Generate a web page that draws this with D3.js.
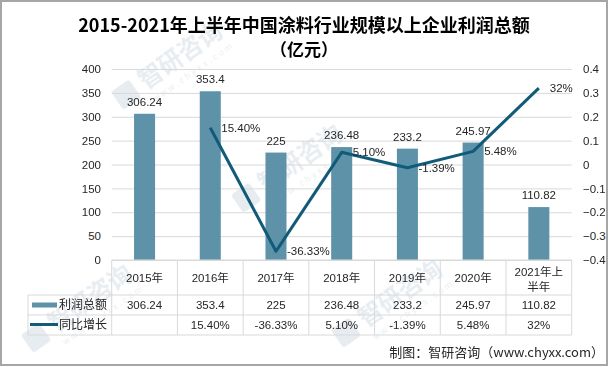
<!DOCTYPE html>
<html><head><meta charset="utf-8">
<script src="https://cdn.jsdelivr.net/npm/d3@7"></script>
<style>
html,body{margin:0;padding:0;background:#fff;}
svg{display:block;font-family:"Liberation Sans","Noto Sans CJK SC",sans-serif;}
</style></head>
<body>
<svg id="c" width="608" height="366"></svg>
<script>
const categories = ["2015年","2016年","2017年","2018年","2019年","2020年","2021年上半年"];
const headerLines = [["2015年"],["2016年"],["2017年"],["2018年"],["2019年"],["2020年"],["2021年上","半年"]];
const profits = [306.24,353.4,225,236.48,233.2,245.97,110.82];
const profitLabels = ["306.24","353.4","225","236.48","233.2","245.97","110.82"];
const growth = [null,0.154,-0.3633,0.051,-0.0139,0.0548,0.32];
const growthLabels = ["","15.40%","-36.33%","5.10%","-1.39%","5.48%","32%"];
const leftTicks = [0,50,100,150,200,250,300,350,400];
const rightTicks = [-0.4,-0.3,-0.2,-0.1,0,0.1,0.2,0.3,0.4];
const seriesNames = ["利润总额","同比增长"];
const titleLines = ["2015-2021年上半年中国涂料行业规模以上企业利润总额","（亿元）"];
const sourceText = "制图：智研咨询（www.chyxx.com）";
const watermarkText = ["智研咨询","w w w . c h y x x . c o m"];

const barColor = "#5e92a9", lineColor = "#115b79", gridColor = "#d9d9d9", textColor = "#262626";
const numFont = "'Liberation Sans','Noto Sans CJK SC',sans-serif";
const cjkFont = "'Noto Sans CJK SC',sans-serif";
const svg = d3.select("#c");
const L = 111.7, R = 571.7, T = 69, B = 260;
const x = d3.scaleBand().domain(categories).range([L, R]);
const yL = d3.scaleLinear().domain([0,400]).range([B,T]);
const yR = d3.scaleLinear().domain([-0.4,0.4]).range([B,T]);

// border
svg.append("rect").attr("x",1).attr("y",1).attr("width",606).attr("height",364)
  .attr("fill","#fff").attr("stroke","#a6a6a6").attr("stroke-width",2);

// faint watermarks (behind content)
const wmPos = [[185,62],[305,165],[95,305],[405,300]];
const wm = svg.append("g").attr("pointer-events","none").attr("opacity",0.28);
wmPos.forEach(([px,py])=>{
  const g = wm.append("g").attr("transform",`translate(${px},${py}) rotate(-35)`);
  g.append("text").attr("x",0).attr("y",0).attr("text-anchor","middle").attr("font-size",24)
    .attr("font-weight","bold").attr("fill","#a9bccd").attr("font-family",cjkFont).text(watermarkText[0]);
  g.append("text").attr("x",0).attr("y",16).attr("text-anchor","middle").attr("font-size",9)
    .attr("fill","#a9bccd").attr("font-family",numFont).text(watermarkText[1]);
  g.append("rect").attr("x",-78).attr("y",-18).attr("width",22).attr("height",22).attr("rx",3)
    .attr("fill","#a9bccd");
});

// title
svg.append("g").selectAll("text").data(titleLines).join("text")
  .attr("x",304).attr("y",(d,i)=>32+i*24).attr("text-anchor","middle")
  .attr("font-size",(d,i)=>i?17:18).attr("font-weight","bold").attr("fill","#000")
  .attr("font-family",cjkFont)
  .text(d=>d);

// grid
const grid = svg.append("g").attr("transform",`translate(${L},0)`)
  .call(d3.axisLeft(yL).tickValues(leftTicks).tickSize(-(R-L)).tickFormat(""));
grid.select(".domain").remove();
grid.selectAll("line").attr("stroke",gridColor);

// left axis
const la = svg.append("g").attr("transform",`translate(101,0)`)
  .call(d3.axisLeft(yL).tickValues(leftTicks).tickSize(0).tickPadding(0));
la.select(".domain").remove();
la.selectAll("text").attr("font-size",11.5).attr("fill",textColor).attr("font-family",numFont);

// right axis
const ra = svg.append("g").attr("transform",`translate(583,0)`)
  .call(d3.axisRight(yR).tickValues(rightTicks).tickSize(0).tickPadding(0).tickFormat(d=>d3.format("")(+d.toFixed(1))));
ra.select(".domain").remove();
ra.selectAll("text").attr("font-size",11.5).attr("fill",textColor).attr("font-family",numFont);

// bars
const bw = x.bandwidth()*0.32;
const cx = i => x(categories[i])+x.bandwidth()/2;
svg.append("g").selectAll("rect").data(profits).join("rect")
  .attr("x",(d,i)=>cx(i)-bw/2)
  .attr("y",d=>yL(d)).attr("width",bw).attr("height",d=>B-yL(d))
  .attr("fill",barColor);
svg.append("g").selectAll("text").data(profits).join("text")
  .attr("x",(d,i)=>cx(i))
  .attr("y",d=>yL(d)-8).attr("text-anchor","middle")
  .attr("font-size",11.5).attr("fill",textColor).attr("font-family",numFont)
  .text((d,i)=>profitLabels[i]);

// line
const pts = growth.map((g,i)=>({g,i})).filter(p=>p.g!==null);
svg.append("path").datum(pts)
  .attr("d",d3.line().x(p=>cx(p.i)).y(p=>yR(p.g)))
  .attr("fill","none").attr("stroke",lineColor).attr("stroke-width",3).attr("stroke-linejoin","round");
svg.append("g").selectAll("text").data(pts).join("text")
  .attr("x",p=>cx(p.i)+11).attr("y",p=>yR(p.g)).attr("dy","0.35em")
  .attr("font-size",11.5).attr("fill",textColor).attr("font-family",numFont)
  .text(p=>growthLabels[p.i]);

// table
const tb = svg.append("g").attr("stroke",gridColor).attr("stroke-width",1);
tb.append("line").attr("x1",L).attr("x2",R).attr("y1",260).attr("y2",260);
[295,315,335].forEach(y=>tb.append("line").attr("x1",28).attr("x2",R).attr("y1",y).attr("y2",y));
categories.forEach(c=>tb.append("line").attr("x1",x(c)).attr("x2",x(c)).attr("y1",260).attr("y2",335));
tb.append("line").attr("x1",R).attr("x2",R).attr("y1",260).attr("y2",335);
tb.append("line").attr("x1",28).attr("x2",28).attr("y1",295).attr("y2",335);

// header
const hdr = svg.append("g");
categories.forEach((c,i)=>{
  const lines = headerLines[i];
  const y0 = lines.length===1 ? 278 : 271.5;
  lines.forEach((t,j)=>hdr.append("text").attr("x",cx(i)).attr("y",y0+j*15).attr("dy","0.35em")
    .attr("text-anchor","middle").attr("font-size",11.5).attr("fill",textColor).attr("font-family",numFont).text(t));
});
// rows
svg.append("g").selectAll("text").data(profitLabels).join("text")
  .attr("x",(d,i)=>cx(i)).attr("y",305).attr("dy","0.35em").attr("text-anchor","middle")
  .attr("font-size",11.5).attr("fill",textColor).attr("font-family",numFont).text(d=>d);
svg.append("g").selectAll("text").data(growthLabels).join("text")
  .attr("x",(d,i)=>cx(i)).attr("y",325).attr("dy","0.35em").attr("text-anchor","middle")
  .attr("font-size",11.5).attr("fill",textColor).attr("font-family",numFont).text(d=>d);

// legend
svg.append("rect").attr("x",32).attr("y",302.5).attr("width",25).attr("height",5).attr("fill",barColor);
svg.append("line").attr("x1",30).attr("x2",58).attr("y1",324.5).attr("y2",324.5).attr("stroke",lineColor).attr("stroke-width",3);
svg.append("g").selectAll("text").data(seriesNames).join("text")
  .attr("x",59).attr("y",(d,i)=>305+i*20).attr("dy","0.35em")
  .attr("font-size",12).attr("fill",textColor).attr("font-family",cjkFont).text(d=>d);

// source
svg.append("text").attr("x",604).attr("y",352).attr("dy","0.35em").attr("text-anchor","end")
  .attr("font-size",13).attr("fill",textColor).attr("font-family",cjkFont).text(sourceText);
</script>
</body></html>
